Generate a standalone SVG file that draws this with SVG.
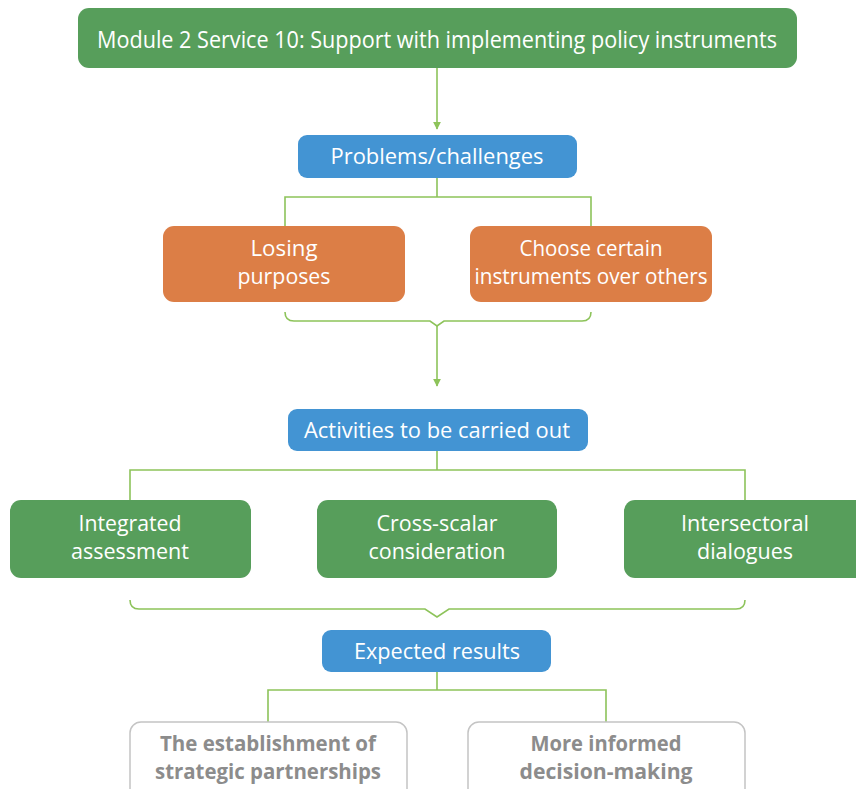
<svg xmlns="http://www.w3.org/2000/svg" width="856" height="789" viewBox="0 0 856 789">
  <style>
    .green { fill: #579e5b; }
    .blue { fill: #4394d3; }
    .orange { fill: #dc7e46; }
    .result { fill: #ffffff; stroke: #c4c4c4; stroke-width: 1.5; }
    text { font-family: "Open Sans", "Noto Sans", sans-serif; text-anchor: middle; fill: #ffffff; }
    .t23 { font-size: 23px; }
    .t22 { font-size: 22px; }
    .t21 { font-size: 21px; }
    .res { font-size: 22px; font-weight: bold; fill: #8c8c8c; }
    .conn { fill: none; stroke: #8dc35a; stroke-width: 1.6; }
  </style>
  <defs>
    <marker id="arrow" viewBox="0 0 10 10" refX="9" refY="5" markerWidth="8" markerHeight="8" markerUnits="userSpaceOnUse" orient="auto">
      <path d="M0,0 L10,5 L0,10 z" fill="#8dc35a"/>
    </marker>
  </defs>
  <rect width="856" height="789" fill="#ffffff"/>

  <g id="connectors">
    <line class="conn" x1="437" y1="68" x2="437" y2="129" marker-end="url(#arrow)"/>
    <path class="conn" d="M437,178 V197 M285,226 V197 H591 V226"/>
    <path class="conn" d="M285,312 Q285,321 294,321 H430 L437,326 L444,321 H582 Q591,321 591,312"/>
    <line class="conn" x1="437" y1="326" x2="437" y2="386" marker-end="url(#arrow)"/>
    <path class="conn" d="M437,451 V470 M130,500 V470 H745 V500"/>
    <path class="conn" d="M130,600 Q130,609 139,609 H425 L437,617 L449,609 H736 Q745,609 745,600"/>
    <path class="conn" d="M437,672 V690 M268,722 V690 H606 V722"/>
  </g>

  <g id="module">
    <rect class="green" x="78" y="8" width="719" height="60" rx="11"/>
    <text class="t23" x="437" y="48" textLength="680" lengthAdjust="spacingAndGlyphs">Module 2 Service 10: Support with implementing policy instruments</text>
  </g>

  <g id="problems">
    <rect class="blue" x="298" y="135" width="279" height="43" rx="9"/>
    <text class="t21" x="437" y="164" textLength="213" lengthAdjust="spacingAndGlyphs">Problems/challenges</text>
  </g>

  <g id="losing-purposes">
    <rect class="orange" x="163" y="226" width="242" height="76" rx="11"/>
    <text class="t22" x="284" y="256" textLength="67" lengthAdjust="spacingAndGlyphs">Losing</text>
    <text class="t22" x="284" y="284" textLength="93" lengthAdjust="spacingAndGlyphs">purposes</text>
  </g>

  <g id="choose-instruments">
    <rect class="orange" x="470" y="226" width="242" height="76" rx="11"/>
    <text class="t22" x="591" y="256" textLength="143" lengthAdjust="spacingAndGlyphs">Choose certain</text>
    <text class="t22" x="591" y="284" textLength="233" lengthAdjust="spacingAndGlyphs">instruments over others</text>
  </g>

  <g id="activities">
    <rect class="blue" x="288" y="409" width="300" height="42" rx="9"/>
    <text class="t21" x="437" y="438" textLength="266" lengthAdjust="spacingAndGlyphs">Activities to be carried out</text>
  </g>

  <g id="integrated-assessment">
    <rect class="green" x="10" y="500" width="241" height="78" rx="11"/>
    <text class="t22" x="130" y="531" textLength="103" lengthAdjust="spacingAndGlyphs">Integrated</text>
    <text class="t22" x="130" y="559" textLength="118" lengthAdjust="spacingAndGlyphs">assessment</text>
  </g>

  <g id="cross-scalar">
    <rect class="green" x="317" y="500" width="240" height="78" rx="11"/>
    <text class="t22" x="437" y="531" textLength="121" lengthAdjust="spacingAndGlyphs">Cross-scalar</text>
    <text class="t22" x="437" y="559" textLength="137" lengthAdjust="spacingAndGlyphs">consideration</text>
  </g>

  <g id="intersectoral">
    <rect class="green" x="624" y="500" width="245" height="78" rx="11"/>
    <text class="t22" x="745" y="531" textLength="128" lengthAdjust="spacingAndGlyphs">Intersectoral</text>
    <text class="t22" x="745" y="559" textLength="96" lengthAdjust="spacingAndGlyphs">dialogues</text>
  </g>

  <g id="expected-results">
    <rect class="blue" x="322" y="630" width="229" height="42" rx="9"/>
    <text class="t21" x="437" y="659" textLength="166" lengthAdjust="spacingAndGlyphs">Expected results</text>
  </g>

  <g id="partnerships">
    <rect class="result" x="130" y="722" width="277" height="80" rx="11"/>
    <text class="res" x="268" y="751" textLength="216" lengthAdjust="spacingAndGlyphs">The establishment of</text>
    <text class="res" x="268" y="779" textLength="226" lengthAdjust="spacingAndGlyphs">strategic partnerships</text>
  </g>

  <g id="decision-making">
    <rect class="result" x="468" y="722" width="277" height="80" rx="11"/>
    <text class="res" x="606" y="751" textLength="151" lengthAdjust="spacingAndGlyphs">More informed</text>
    <text class="res" x="606" y="779" textLength="173" lengthAdjust="spacingAndGlyphs">decision-making</text>
  </g>
</svg>
